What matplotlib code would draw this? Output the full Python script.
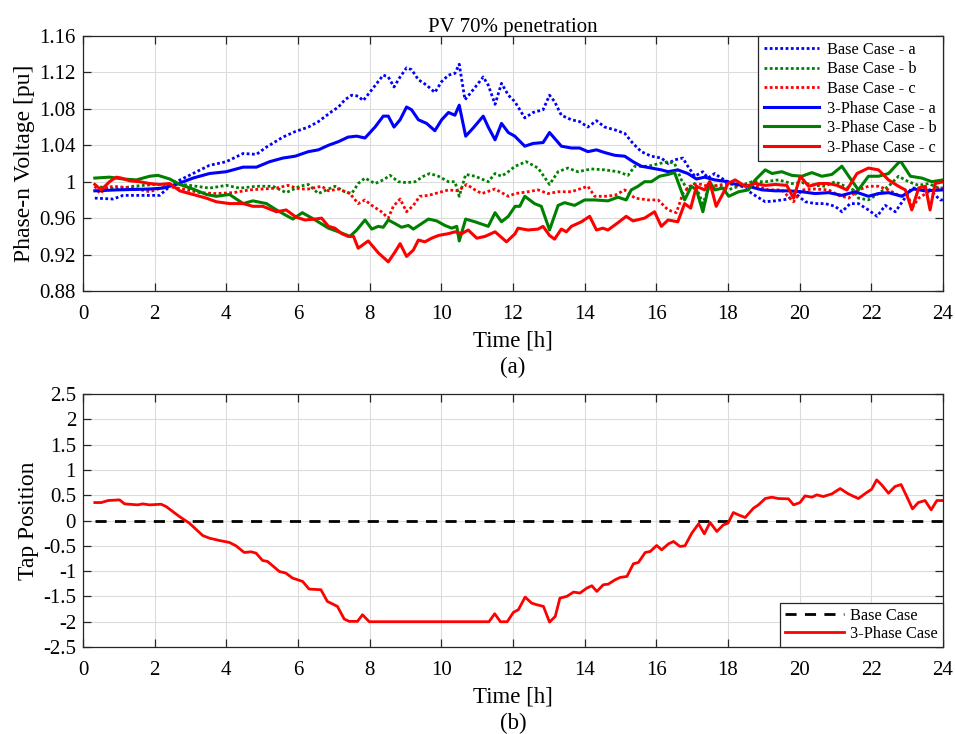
import matplotlib
matplotlib.use("Agg")
import matplotlib.pyplot as plt

plt.rcParams['font.family'] = ['Liberation Serif', 'DejaVu Serif']
plt.rcParams['axes.unicode_minus'] = False

# ---------------- data: panel (a) voltages ----------------
t_base_a = [0.33, 0.84, 1.12, 1.58, 2.14, 2.51, 3.07, 3.53, 4.0, 4.47, 4.84, 5.12, 5.58, 5.92, 6.29, 6.57,
            6.94, 7.13, 7.31, 7.5, 7.68, 7.82, 8.06, 8.38, 8.52, 8.68, 8.85, 9.03, 9.17, 9.36, 9.59, 9.82,
            10.01, 10.2, 10.38, 10.5, 10.66, 10.89, 11.17, 11.31, 11.5, 11.68, 11.87, 12.05, 12.33, 12.56,
            12.84, 13.02, 13.16, 13.35, 13.63, 13.86, 14.09, 14.33, 14.56, 14.84, 15.12, 15.35, 15.58, 15.86,
            16.14, 16.33, 16.51, 16.74, 16.88, 17.07, 17.3, 17.44, 17.63, 17.81, 18.0, 18.11, 18.39, 18.67,
            19.04, 19.32, 19.69, 19.88, 20.16, 20.43, 20.71, 20.99, 21.18, 21.41, 21.64, 21.92, 22.16, 22.39,
            22.67, 22.9, 23.13, 23.41, 23.64, 23.92, 24.0]
v_base_a = [0.982, 0.981, 0.985, 0.985, 0.985, 0.998, 1.009, 1.018, 1.022, 1.031, 1.030, 1.038, 1.049, 1.055,
            1.060, 1.066, 1.077, 1.082, 1.090, 1.095, 1.094, 1.089, 1.101, 1.117, 1.115, 1.104, 1.115, 1.125,
            1.123, 1.112, 1.106, 1.098, 1.110, 1.117, 1.119, 1.129, 1.090, 1.101, 1.115, 1.106, 1.085, 1.108,
            1.095, 1.088, 1.070, 1.076, 1.079, 1.095, 1.088, 1.073, 1.068, 1.066, 1.060, 1.067, 1.060, 1.057,
            1.053, 1.042, 1.033, 1.028, 1.026, 1.020, 1.024, 1.026, 1.017, 1.006, 1.011, 1.004, 1.009, 1.004,
            1.000, 0.998, 0.995, 0.987, 0.978, 0.979, 0.981, 0.987, 0.978, 0.976, 0.976, 0.973, 0.967, 0.976,
            0.976, 0.969, 0.962, 0.974, 0.967, 0.980, 0.993, 0.993, 0.991, 0.980, 0.980]

t_base_b = [0.33, 0.93, 1.4, 2.0, 2.42, 2.79, 3.16, 3.53, 4.0, 4.37, 4.84, 5.3, 5.67, 6.05, 6.29, 6.57, 6.85,
            7.03, 7.31, 7.5, 7.68, 7.87, 8.15, 8.38, 8.57, 8.8, 9.03, 9.27, 9.5, 9.68, 9.92, 10.2, 10.38, 10.5,
            10.68, 10.94, 11.31, 11.5, 11.68, 11.87, 12.06, 12.37, 12.7, 13.02, 13.26, 13.53, 13.81, 14.19,
            14.56, 14.93, 15.21, 15.4, 15.77, 16.09, 16.33, 16.51, 16.7, 16.88, 17.07, 17.3, 17.49, 17.72, 18.0,
            18.3, 18.67, 19.04, 19.41, 19.78, 20.06, 20.43, 20.71, 20.99, 21.27, 21.5, 21.64, 21.92, 22.2, 22.48,
            22.76, 23.04, 23.32, 23.6, 23.88, 24.0]
v_base_b = [0.995, 0.992, 0.995, 0.997, 0.997, 0.997, 0.995, 0.993, 0.996, 0.993, 0.995, 0.995, 0.988, 0.995,
            0.997, 0.987, 0.992, 0.995, 0.989, 0.987, 0.998, 1.004, 0.998, 1.002, 1.007, 1.000, 0.999, 1.000,
            1.006, 1.009, 1.006, 1.000, 1.000, 0.984, 1.008, 1.006, 1.000, 1.009, 1.006, 1.011, 1.017, 1.022,
            1.015, 0.997, 1.011, 1.015, 1.011, 1.014, 1.013, 1.011, 1.007, 1.017, 1.017, 1.020, 1.022, 1.020,
            1.002, 0.991, 0.998, 0.976, 0.996, 0.995, 0.991, 0.995, 1.000, 1.000, 1.002, 0.998, 0.999, 0.996,
            0.995, 1.000, 0.995, 0.991, 0.982, 0.980, 0.987, 0.995, 1.006, 1.000, 0.996, 0.998, 0.993, 0.993]

t_base_c = [0.33, 0.47, 0.65, 0.84, 1.4, 1.86, 2.33, 2.79, 3.26, 3.72, 4.19, 4.65, 5.02, 5.4, 5.72, 6.05, 6.29,
            6.66, 6.85, 7.13, 7.45, 7.68, 7.87, 8.06, 8.33, 8.52, 8.66, 8.85, 9.03, 9.22, 9.4, 9.64, 9.92, 10.2,
            10.47, 10.71, 10.94, 11.13, 11.5, 11.87, 12.06, 12.42, 12.7, 12.98, 13.26, 13.63, 14.09, 14.28,
            14.56, 14.84, 15.12, 15.4, 15.77, 16.05, 16.33, 16.56, 16.74, 16.93, 17.16, 17.44, 17.72, 18.0,
            18.11, 18.39, 18.76, 19.13, 19.5, 19.83, 20.06, 20.43, 20.81, 21.09, 21.37, 21.64, 21.92, 22.2,
            22.48, 22.76, 23.04, 23.13, 23.32, 23.6, 23.88, 24.0]
v_base_c = [0.995, 0.987, 0.993, 0.995, 0.993, 0.989, 0.995, 0.992, 0.988, 0.987, 0.988, 0.991, 0.992, 0.993,
            0.996, 0.992, 0.992, 0.995, 0.990, 0.992, 0.987, 0.976, 0.980, 0.974, 0.967, 0.960, 0.973, 0.981,
            0.967, 0.974, 0.984, 0.985, 0.988, 0.991, 0.990, 0.997, 0.991, 0.987, 0.992, 0.984, 0.987, 0.989,
            0.991, 0.987, 0.989, 0.989, 0.995, 0.984, 0.984, 0.985, 0.991, 0.982, 0.980, 0.980, 0.969, 0.966,
            0.987, 0.995, 0.998, 0.995, 0.996, 0.998, 0.997, 0.995, 0.996, 0.991, 0.991, 0.978, 0.991, 0.992,
            0.991, 0.985, 0.982, 0.991, 0.995, 0.995, 0.991, 0.985, 0.984, 0.971, 0.982, 0.989, 0.993, 0.993]

t_3ph_a = [0.33, 0.93, 1.86, 2.23, 2.6, 3.07, 3.53, 4.0, 4.47, 4.84, 5.21, 5.58, 5.92, 6.29, 6.57, 6.85, 7.13,
           7.4, 7.64, 7.87, 8.15, 8.38, 8.52, 8.68, 8.85, 9.03, 9.17, 9.36, 9.59, 9.82, 10.01, 10.2, 10.38,
           10.5, 10.68, 10.89, 11.17, 11.31, 11.5, 11.68, 11.87, 12.05, 12.33, 12.56, 12.84, 13.02, 13.35,
           13.63, 13.86, 14.09, 14.33, 14.56, 14.84, 15.12, 15.35, 15.58, 15.86, 16.14, 16.33, 16.6, 16.88,
           17.12, 17.35, 17.63, 18.0, 18.11, 18.57, 18.95, 19.32, 19.69, 20.06, 20.43, 20.81, 21.18, 21.55,
           21.92, 22.2, 22.48, 22.85, 23.18, 23.5, 24.0]
v_3ph_a = [0.990, 0.991, 0.992, 0.993, 0.997, 1.004, 1.009, 1.011, 1.016, 1.016, 1.022, 1.026, 1.028, 1.033,
           1.035, 1.040, 1.044, 1.049, 1.050, 1.048, 1.060, 1.072, 1.072, 1.060, 1.068, 1.082, 1.079, 1.068,
           1.064, 1.056, 1.068, 1.076, 1.073, 1.084, 1.050, 1.059, 1.072, 1.060, 1.046, 1.064, 1.054, 1.050,
           1.039, 1.042, 1.043, 1.054, 1.039, 1.037, 1.037, 1.033, 1.035, 1.032, 1.029, 1.028, 1.022, 1.017,
           1.015, 1.013, 1.011, 1.013, 1.009, 1.003, 1.005, 1.002, 1.000, 0.998, 0.995, 0.991, 0.990, 0.990,
           0.989, 0.987, 0.988, 0.985, 0.989, 0.984, 0.987, 0.988, 0.984, 0.992, 0.990, 0.991]

t_3ph_b = [0.33, 0.74, 1.12, 1.49, 1.86, 2.09, 2.42, 2.7, 3.07, 3.44, 3.72, 4.09, 4.47, 4.74, 5.12, 5.4, 5.67,
           5.86, 6.12, 6.48, 6.85, 7.13, 7.45, 7.64, 7.87, 8.06, 8.24, 8.38, 8.52, 8.71, 8.89, 9.08, 9.22, 9.45,
           9.64, 9.87, 10.1, 10.29, 10.43, 10.5, 10.68, 10.94, 11.31, 11.5, 11.68, 11.87, 12.06, 12.19, 12.33,
           12.6, 12.79, 13.02, 13.26, 13.44, 13.72, 14.0, 14.28, 14.65, 14.93, 15.16, 15.3, 15.49, 15.67, 15.86,
           16.09, 16.33, 16.51, 16.65, 16.79, 16.98, 17.12, 17.3, 17.49, 17.63, 17.86, 18.02, 18.3, 18.57,
           18.76, 19.04, 19.23, 19.5, 19.78, 20.06, 20.34, 20.62, 20.9, 21.18, 21.37, 21.64, 21.92, 22.2,
           22.48, 22.81, 23.09, 23.41, 23.69, 24.0]
v_3ph_b = [1.004, 1.005, 1.003, 1.002, 1.006, 1.007, 1.003, 0.997, 0.992, 0.986, 0.984, 0.986, 0.976, 0.979,
           0.976, 0.969, 0.963, 0.959, 0.966, 0.958, 0.949, 0.945, 0.940, 0.947, 0.958, 0.948, 0.951, 0.950,
           0.958, 0.954, 0.950, 0.952, 0.948, 0.954, 0.959, 0.957, 0.952, 0.949, 0.951, 0.935, 0.959, 0.956,
           0.951, 0.966, 0.956, 0.962, 0.973, 0.973, 0.984, 0.976, 0.973, 0.947, 0.974, 0.977, 0.974, 0.980,
           0.980, 0.979, 0.983, 0.980, 0.991, 0.995, 1.000, 1.000, 1.006, 1.008, 1.010, 0.995, 0.980, 0.995,
           0.991, 0.967, 1.000, 0.991, 0.993, 0.984, 0.989, 0.991, 1.002, 1.013, 1.009, 1.011, 1.007, 1.006,
           1.010, 1.006, 1.008, 1.017, 1.006, 0.991, 1.006, 1.006, 1.009, 1.023, 1.006, 1.004, 1.000, 1.002]

t_3ph_c = [0.33, 0.51, 0.74, 0.93, 1.07, 1.3, 1.58, 1.86, 2.14, 2.42, 2.7, 3.07, 3.44, 3.72, 4.09, 4.47, 4.74,
           5.02, 5.4, 5.67, 5.95, 6.2, 6.48, 6.66, 6.85, 7.03, 7.22, 7.4, 7.55, 7.68, 7.96, 8.24, 8.52, 8.71,
           8.85, 9.03, 9.22, 9.36, 9.54, 9.73, 9.92, 10.2, 10.38, 10.57, 10.75, 10.99, 11.22, 11.5, 11.82,
           12.06, 12.14, 12.42, 12.7, 12.84, 13.02, 13.16, 13.35, 13.49, 13.63, 13.91, 14.14, 14.33, 14.51,
           14.65, 14.93, 15.16, 15.35, 15.67, 15.95, 16.14, 16.33, 16.6, 16.79, 16.96, 17.12, 17.35, 17.49,
           17.67, 17.86, 18.0, 18.2, 18.48, 18.76, 19.04, 19.32, 19.64, 19.83, 20.02, 20.25, 20.53, 20.81,
           21.04, 21.32, 21.6, 21.92, 22.2, 22.48, 22.76, 22.95, 23.13, 23.32, 23.51, 23.64, 23.78, 24.0]
v_3ph_c = [0.997, 0.991, 1.000, 1.005, 1.004, 1.001, 1.000, 0.998, 0.997, 0.998, 0.990, 0.986, 0.982, 0.978,
           0.976, 0.976, 0.973, 0.973, 0.967, 0.969, 0.961, 0.958, 0.959, 0.960, 0.951, 0.949, 0.943, 0.940,
           0.940, 0.927, 0.935, 0.922, 0.912, 0.923, 0.932, 0.918, 0.925, 0.936, 0.934, 0.938, 0.941, 0.943,
           0.945, 0.943, 0.947, 0.938, 0.940, 0.945, 0.934, 0.943, 0.949, 0.947, 0.948, 0.951, 0.941, 0.937,
           0.948, 0.945, 0.951, 0.956, 0.962, 0.947, 0.949, 0.947, 0.955, 0.962, 0.957, 0.960, 0.967, 0.951,
           0.958, 0.956, 0.976, 0.971, 0.995, 0.991, 1.000, 0.973, 0.987, 0.998, 1.002, 0.995, 0.998, 0.996,
           0.997, 0.996, 0.982, 1.006, 0.995, 0.998, 0.998, 0.996, 0.991, 1.009, 1.015, 1.013, 1.002, 0.995,
           0.991, 0.969, 0.993, 0.995, 0.969, 0.998, 1.000]

# ---------------- data: panel (b) tap position ----------------
t_tap_base = [0.33, 24.0]
tap_base = [0.0, 0.0]

t_tap_3ph = [0.33, 0.51, 0.7, 1.02, 1.16, 1.53, 1.67, 1.86, 2.18, 2.32, 2.69, 2.97, 3.34, 3.53, 3.81, 4.09,
             4.27, 4.5, 4.69, 4.83, 5.01, 5.15, 5.48, 5.66, 5.85, 6.13, 6.31, 6.64, 6.82, 7.1, 7.29, 7.43,
             7.66, 7.8, 7.99, 11.33, 11.49, 11.65, 11.84, 12.01, 12.15, 12.34, 12.52, 12.66, 12.85, 13.02,
             13.18, 13.31, 13.5, 13.69, 13.87, 14.06, 14.2, 14.34, 14.52, 14.66, 14.85, 14.99, 15.18, 15.36,
             15.5, 15.69, 15.83, 16.01, 16.15, 16.34, 16.48, 16.66, 16.8, 16.99, 17.18, 17.34, 17.5, 17.69,
             17.87, 18.0, 18.15, 18.29, 18.48, 18.71, 18.85, 19.04, 19.22, 19.41, 19.69, 19.83, 20.01, 20.15,
             20.34, 20.48, 20.66, 20.9, 21.13, 21.36, 21.64, 21.87, 22.01, 22.15, 22.29, 22.48, 22.66, 22.83,
             22.99, 23.15, 23.31, 23.5, 23.67, 23.83, 24.0]
tap_3ph = [0.355, 0.355, 0.395, 0.408, 0.329, 0.309, 0.329, 0.309, 0.322, 0.276, 0.079, -0.053, -0.296,
           -0.349, -0.395, -0.434, -0.5, -0.632, -0.618, -0.645, -0.789, -0.809, -1.007, -1.039, -1.138,
           -1.204, -1.355, -1.368, -1.599, -1.697, -1.947, -1.993, -1.993, -1.862, -2.0, -2.0, -1.842, -2.0,
           -2.0, -1.816, -1.763, -1.513, -1.632, -1.664, -1.697, -2.007, -1.895, -1.533, -1.5, -1.414, -1.434,
           -1.336, -1.289, -1.401, -1.27, -1.257, -1.171, -1.125, -1.105, -0.855, -0.829, -0.632, -0.612,
           -0.493, -0.579, -0.461, -0.414, -0.513, -0.5, -0.25, -0.066, -0.263, -0.039, -0.217, -0.086, -0.053,
           0.158, 0.112, 0.059, 0.243, 0.309, 0.434, 0.461, 0.434, 0.428, 0.309, 0.355, 0.487, 0.461, 0.507,
           0.474, 0.526, 0.632, 0.526, 0.434, 0.553, 0.618, 0.803, 0.704, 0.539, 0.671, 0.711, 0.474, 0.23,
           0.355, 0.395, 0.211, 0.395, 0.395]

x_ticks = list(range(0, 25, 2))
v_ticks = [0.88, 0.92, 0.96, 1.00, 1.04, 1.08, 1.12, 1.16]
v_tick_labels = ["0.88", "0.92", "0.96", "1", "1.04", "1.08", "1.12", "1.16"]
tap_ticks = [-2.5, -2, -1.5, -1, -0.5, 0, 0.5, 1, 1.5, 2, 2.5]
tap_tick_labels = ["-2.5", "-2", "-1.5", "-1", "-0.5", "0", "0.5", "1", "1.5", "2", "2.5"]

BLUE = "#0000ff"
GREEN = "#008000"
RED = "#ff0000"

fig = plt.figure(figsize=(9.55, 7.34), dpi=100)
ax1 = fig.add_axes([0.0869, 0.6035, 0.9005, 0.3475])
ax2 = fig.add_axes([0.0869, 0.1185, 0.9005, 0.3447])

dot = (0, (1.0, 0.9))
lw_d = 2.0
lw_s = 2.2
ax1.plot(t_base_a, v_base_a, color=BLUE, ls=dot, lw=lw_d, label="Base Case - a")
ax1.plot(t_base_b, v_base_b, color=GREEN, ls=dot, lw=lw_d, label="Base Case - b")
ax1.plot(t_base_c, v_base_c, color=RED, ls=dot, lw=lw_d, label="Base Case - c")
ax1.plot(t_3ph_a, v_3ph_a, color=BLUE, lw=lw_s, label="3-Phase Case - a")
ax1.plot(t_3ph_b, v_3ph_b, color=GREEN, lw=lw_s, label="3-Phase Case - b")
ax1.plot(t_3ph_c, v_3ph_c, color=RED, lw=lw_s, label="3-Phase Case - c")

ax2.plot(t_tap_base, tap_base, color="black", ls=(0, (4, 3)), lw=2.0, label="Base Case")
ax2.plot(t_tap_3ph, tap_3ph, color=RED, lw=2.0, label="3-Phase Case")

for ax in (ax1, ax2):
    ax.set_xlim(0, 24)
    ax.set_xticks(x_ticks)
    ax.grid(True, color="#dcdcdc", lw=0.8)
    ax.set_axisbelow(True)
    ax.tick_params(direction="in", length=6, width=0.9, top=True, right=True,
                   labelsize=15, colors="#262626", labelcolor="black")
    ax.tick_params(axis="x", pad=10)
    ax.tick_params(axis="y", pad=5)
    for s in ax.spines.values():
        s.set_color("#262626")
        s.set_linewidth(0.9)
    ax.set_xlabel("Time [h]", fontsize=16.5, labelpad=5)

ax1.set_ylim(0.88, 1.16)
ax1.set_yticks(v_ticks)
ax1.set_yticklabels(v_tick_labels)
ax1.set_ylabel("Phase-n Voltage [pu]", fontsize=17, labelpad=3)
ax1.set_title("PV 70% penetration", fontsize=15, pad=3)

ax2.set_ylim(-2.5, 2.5)
ax2.set_yticks(tap_ticks)
ax2.set_yticklabels(tap_tick_labels)
ax2.set_ylabel("Tap Position", fontsize=17, labelpad=3)

leg1 = ax1.legend(loc="upper right", fontsize=11.8, frameon=True, fancybox=False,
                  edgecolor="#262626", framealpha=1, borderaxespad=0, handlelength=3.4,
                  labelspacing=0.22, borderpad=0.35, handletextpad=0.5)
leg1.get_frame().set_linewidth(0.9)
leg2 = ax2.legend(loc="lower right", fontsize=11.8, frameon=True, fancybox=False,
                  edgecolor="#262626", framealpha=1, borderaxespad=0, handlelength=3.6,
                  labelspacing=0.12, borderpad=0.3, handletextpad=0.4)
leg2.get_frame().set_linewidth(0.9)

fig.text(0.537, 0.499, "(a)", ha="center", va="center", fontsize=16.5)
fig.text(0.537, 0.015, "(b)", ha="center", va="center", fontsize=16.5)

fig.savefig("out.png", dpi=100)
